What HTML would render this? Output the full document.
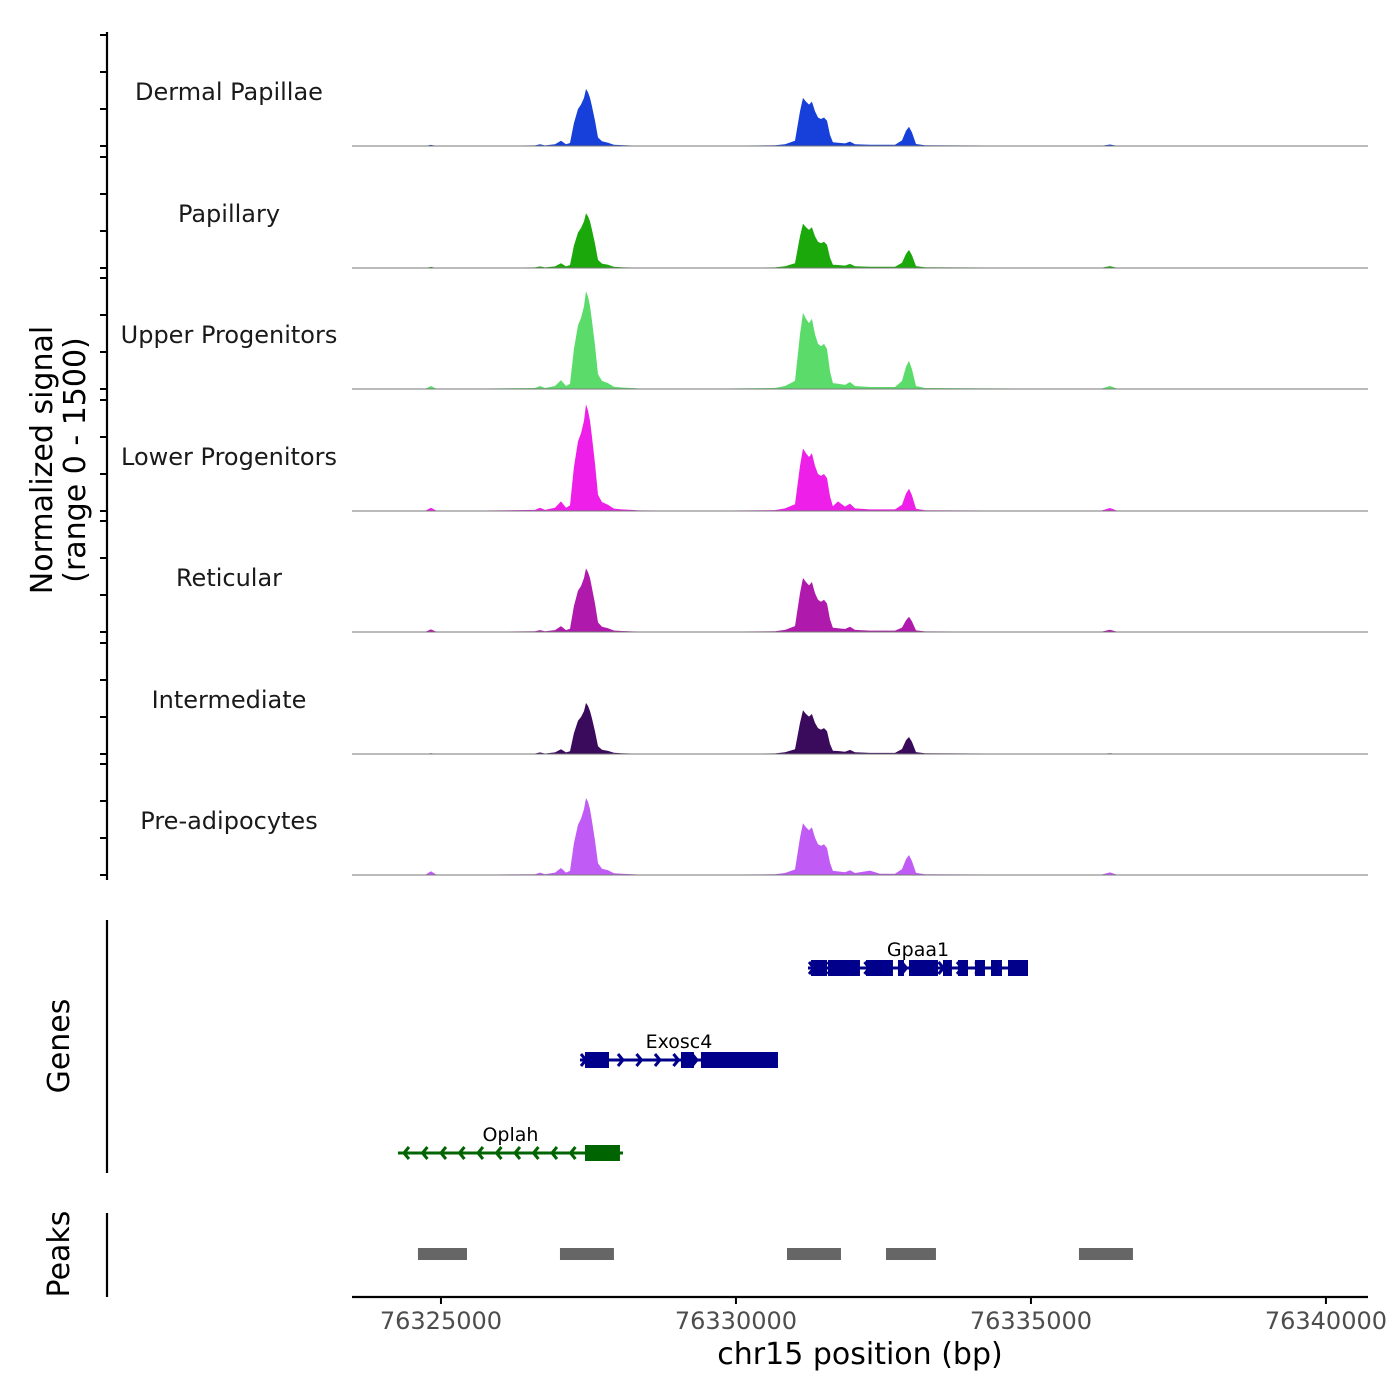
<!DOCTYPE html>
<html><head><meta charset="utf-8"><style>
html,body{margin:0;padding:0;background:#fff;}
svg{display:block;font-family:"DejaVu Sans","Liberation Sans",sans-serif;}
</style></head><body>
<svg id="chart" width="1400" height="1400" viewBox="0 0 1400 1400" xmlns="http://www.w3.org/2000/svg">
<g id="tracks"></g>
<g id="genes"></g>
<g id="peaks"></g>
<g id="axes"></g>
</svg>
<script>
const positions=[76323492,76324729,76324830,76324932,76326593,76326678,76326763,76326932,76327034,76327119,76327187,76327254,76327322,76327373,76327424,76327458,76327492,76327526,76327559,76327610,76327661,76327729,76327831,76327932,76328068,76328373,76329390,
76330661,76330831,76331000,76331085,76331136,76331187,76331238,76331288,76331339,76331390,76331441,76331492,76331543,76331594,76331644,76331729,76331848,76331933,76332017,76332272,76332441,76332695,
76332814,76332882,76332933,76332983,76333051,76333204,76336170,76336340,76336475,76340713];
const trackNames=["Dermal Papillae","Papillary","Upper Progenitors","Lower Progenitors","Reticular","Intermediate","Pre-adipocytes"];
const trackColors=["#1640d9","#1aa80a","#5bdc6a","#ee1fe8","#b01aac","#3a0a5c","#c05cf5"];
const dermalValues=[0,0,15,0,8,25,8,25,70,25,40,310,500,560,650,770,725,650,540,340,115,65,45,18,12,4,2,
9,25,70,470,650,600,560,600,470,385,365,385,340,150,50,45,35,60,25,17,17,17,
75,205,260,185,27,9,0,20,0,0];
const papillaryValues=[0,0,15,0,8,22,8,22,65,22,40,300,480,540,630,740,700,630,520,330,110,60,45,17,11,4,2,
8,23,65,430,600,550,515,550,430,355,335,355,315,140,45,40,32,55,23,16,16,16,
70,190,245,175,25,9,0,25,0,0];
const upperValues=[0,0,40,0,14,40,14,40,120,40,70,540,860,960,1120,1320,1250,1120,930,590,200,110,80,30,20,7,4,
14,40,110,740,1030,950,890,950,740,610,580,610,540,240,80,70,55,95,40,27,27,27,
110,300,380,270,40,14,0,40,0,0];
const lowerValues=[0,0,45,0,15,45,15,45,130,45,75,590,940,1050,1220,1440,1360,1220,1010,640,220,120,85,33,22,8,4,
12,35,90,610,845,780,730,780,610,500,475,500,445,200,65,130,60,100,35,22,22,22,
85,235,300,215,30,11,0,40,0,0];
const reticularValues=[0,0,35,0,9,26,9,26,80,26,45,350,560,620,730,860,810,730,600,385,130,70,52,20,13,5,3,
10,28,80,525,730,675,630,675,525,435,410,435,385,170,57,50,40,70,28,19,19,19,
60,160,205,145,22,8,0,30,0,0];
const intermediateValues=[0,0,10,0,7,21,7,21,65,21,36,280,450,500,580,690,650,580,485,305,105,57,42,16,10,4,2,
8,23,63,420,590,540,505,540,420,350,330,350,310,135,45,40,31,55,23,15,15,15,
67,185,230,165,25,9,0,10,0,0];
const preadipoValues=[0,0,50,0,11,32,11,32,95,32,55,430,680,760,890,1040,990,890,735,465,160,85,63,24,16,6,3,
10,27,75,505,700,645,605,645,505,415,395,415,365,165,55,48,37,65,27,60,18,18,
80,215,270,190,28,10,0,35,0,0];
const seriesValues=[dermalValues,papillaryValues,upperValues,lowerValues,reticularValues,intermediateValues,preadipoValues];
const xTicks=[76325000,76330000,76335000,76340000];
const yTicks=[0,500,1000,1500];
const gpaa1Exons=[[76331272,76331543],[76331560,76332102],[76332204,76332661],[76332746,76332848],[76332933,76333424],[76333509,76333661],[76333763,76333933],[76334051,76334221],[76334323,76334509],[76334611,76334950]];
const exosc4Exons=[[76327441,76327848],[76329068,76329288],[76329407,76330712]];
const oplahExons=[[76327441,76328034]];
const genes=[
 {name:"Gpaa1",start:76331221,end:76334950,strand:"+",row:0,color:"#00008b",exons:gpaa1Exons},
 {name:"Exosc4",start:76327356,end:76330712,strand:"+",row:1,color:"#00008b",exons:exosc4Exons},
 {name:"Oplah",start:76324271,end:76328085,strand:"-",row:2,color:"#006400",exons:oplahExons}];
const peakRegions=[[76324610,76325441],[76327017,76327932],[76330865,76331780],[76332543,76333390],[76335814,76336729]];

const NS="http://www.w3.org/2000/svg";
const X0=352,X1=1368,B0=76323492,B1=76340713;
function xs(bp){return X0+(bp-B0)/(B1-B0)*(X1-X0);}
const baselines=[146,268,389,511,632,754,875];
function ys(v,i){return baselines[i]-v/1500*111;}
function mk(tag,attrs,parent){const e=document.createElementNS(NS,tag);for(const k in attrs)e.setAttribute(k,attrs[k]);parent.appendChild(e);return e;}
const gT=document.getElementById('tracks'),gG=document.getElementById('genes'),gP=document.getElementById('peaks'),gA=document.getElementById('axes');

seriesValues.forEach((vals,i)=>{
  let d="M"+xs(positions[0])+","+baselines[i];
  vals.forEach((v,j)=>{d+=" L"+xs(positions[j]).toFixed(1)+","+ys(v,i).toFixed(1);});
  d+=" L"+xs(positions[positions.length-1])+","+baselines[i]+"Z";
  const p=mk('path',{d:d,fill:trackColors[i]},gT);
  
  
  const l=mk('line',{x1:X0,x2:X1,y1:baselines[i],y2:baselines[i],stroke:'#777',"stroke-width":1},gT);
  
  
  const t=mk('text',{x:229,y:baselines[i]-46,"text-anchor":"middle","font-size":24,fill:"#1a1a1a"},gT);
  t.textContent=trackNames[i];
  
  
  yTicks.forEach(tv=>{
    const tk=mk('line',{x1:100,x2:107,y1:ys(tv,i),y2:ys(tv,i),stroke:'#000',"stroke-width":2},gA);
    
    
  });
});

const rowY=[968,1060,1153];
genes.forEach(g=>{
  const y=rowY[g.row];
  const sx=xs(g.start),ex=xs(g.end);
  const ln=mk('line',{x1:sx,x2:ex,y1:y,y2:y,stroke:g.color,"stroke-width":3},gG);
  
  
  for(let x=sx+6;x<ex-2;x+=18.5){
    const dx=g.strand==="+"?5:-5;
    const a=mk('path',{d:`M${x-dx},${y-6} L${x},${y} L${x-dx},${y+6}`,stroke:g.color,"stroke-width":3,fill:"none"},gG);
    
    
  }
  g.exons.forEach(e=>{
    const r=mk('rect',{x:xs(e[0]),y:y-8,width:xs(e[1])-xs(e[0]),height:16,fill:g.color},gG);
    
    
  });
  const t=mk('text',{x:(sx+ex)/2,y:y-12,"text-anchor":"middle","font-size":19,fill:"#000"},gG);
  t.textContent=g.name;
  
  
});

peakRegions.forEach(p=>{
  const r=mk('rect',{x:xs(p[0]),y:1248,width:xs(p[1])-xs(p[0]),height:12,fill:'#666'},gP);
  
  
});

function axLine(x1,y1,x2,y2,name){const l=mk('line',{x1,y1,x2,y2,stroke:'#000',"stroke-width":2.2},gA);}
axLine(107,32,107,880,'signal-y-axis');
axLine(107,920,107,1173,'genes-y-axis');
axLine(107,1213,107,1297,'peaks-y-axis');
axLine(352,1297,1368,1297,'x-axis-line');
xTicks.forEach(tv=>{
  const l=mk('line',{x1:xs(tv),x2:xs(tv),y1:1297,y2:1304,stroke:'#000',"stroke-width":2},gA);
  
  
  const t=mk('text',{x:xs(tv),y:1329,"text-anchor":"middle","font-size":24,fill:"#4d4d4d"},gA);
  t.textContent=String(tv);
  
  
});
const xt=mk('text',{x:860,y:1364,"text-anchor":"middle","font-size":30,fill:"#000"},gA);
xt.textContent="chr15 position (bp)";


const yt=mk('text',{transform:"translate(52,460) rotate(-90)","text-anchor":"middle","font-size":30,fill:"#000"},gA);


const ts1=mk('tspan',{x:0,y:0},yt);ts1.textContent="Normalized signal";
const ts2=mk('tspan',{x:0,y:33},yt);ts2.textContent="(range 0 - 1500)";
const gt=mk('text',{transform:"translate(69,1046) rotate(-90)","text-anchor":"middle","font-size":30,fill:"#000"},gA);
gt.textContent="Genes";


const pt=mk('text',{transform:"translate(69,1254) rotate(-90)","text-anchor":"middle","font-size":30,fill:"#000"},gA);
pt.textContent="Peaks";


</script>
</body></html>
